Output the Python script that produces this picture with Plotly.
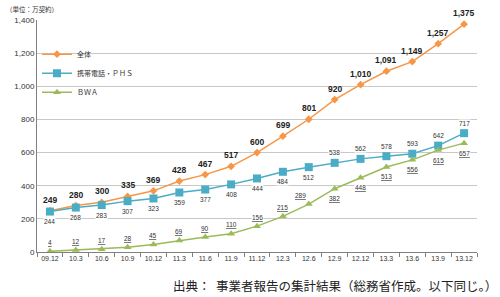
import plotly.graph_objects as go

categories = ["09.12","10.3","10.6","10.9","10.12","11.3","11.6","11.9","11.12",
              "12.3","12.6","12.9","12.12","13.3","13.6","13.9","13.12"]
total = [249,280,300,335,369,428,467,517,600,699,801,920,1010,1091,1149,1257,1375]
mobile = [244,268,283,307,323,359,377,408,444,484,512,538,562,578,593,642,717]
bwa = [4,12,17,28,45,69,90,110,156,215,289,382,448,513,556,615,657]
yticks = [0,200,400,600,800,1000,1200,1400]

C_TOT = "#F79646"
C_MOB = "#4BACC6"
C_BWA = "#9BBB59"
FONT = "Noto Sans CJK JP"

fig = go.Figure()
fig.add_trace(go.Scatter(x=categories, y=total, name="全体", mode="lines+markers",
                         line=dict(color=C_TOT, width=1.5),
                         marker=dict(symbol="diamond", size=6, color=C_TOT)))
fig.add_trace(go.Scatter(x=categories, y=mobile, name="携帯電話・ＰＨＳ", mode="lines+markers",
                         line=dict(color=C_MOB, width=1.5),
                         marker=dict(symbol="square", size=8, color=C_MOB)))
fig.add_trace(go.Scatter(x=categories, y=bwa, name="ＢＷＡ", mode="lines+markers",
                         line=dict(color=C_BWA, width=1.5),
                         marker=dict(symbol="triangle-up", size=7, color=C_BWA)))

ann = []
for i, v in enumerate(total):
    ann.append(dict(x=i, y=v, text=f"<b>{v:,}</b>", showarrow=False, yshift=11,
                    font=dict(size=8.5, color="#222", family="Liberation Sans")))
for i, v in enumerate(mobile):
    above = i >= 11
    ann.append(dict(x=i, y=v, text=f"{v}", showarrow=False, yshift=10 if above else -10,
                    bgcolor="white", borderpad=0,
                    font=dict(size=6.5, color="#333", family="Liberation Sans")))
for i, v in enumerate(bwa):
    if i <= 9:
        ys, xs = 9, 0
    elif i == 10:
        ys, xs = 9, -8
    else:
        ys, xs = -10, 0
    ann.append(dict(x=i, y=v, text=f"<u>{v}</u>", showarrow=False, yshift=ys, xshift=xs,
                    bgcolor="white", borderpad=0,
                    font=dict(size=6.5, color="#333", family="Liberation Sans")))

ann.append(dict(xref="paper", yref="paper", x=-0.075, y=1.0, yshift=11, xanchor="left",
                yanchor="middle", text="（単位：万契約）", showarrow=False,
                font=dict(size=6.5, color="#333", family=FONT)))
ann.append(dict(xref="paper", yref="paper", x=1.05, y=0, yshift=-33, xanchor="right",
                yanchor="middle", text="出典：  事業者報告の集計結果（総務省作成。以下同じ。）",
                showarrow=False, font=dict(size=12.5, color="#222", family=FONT)))

fig.update_layout(
    width=500, height=297,
    margin=dict(l=37, r=23, t=20, b=45),
    paper_bgcolor="white", plot_bgcolor="white",
    showlegend=True,
    legend=dict(x=0.0, y=0.915, xanchor="left", yanchor="top", bgcolor="rgba(0,0,0,0)",
                font=dict(size=7, color="#333", family=FONT), itemwidth=30,
                tracegroupgap=8),
    annotations=ann,
    font=dict(family="Liberation Sans"),
)
fig.update_xaxes(type="category", range=[-0.5, 16.5], showline=True, linecolor="#808080",
                 linewidth=1, ticks="outside", tickson="boundaries", ticklen=4,
                 tickcolor="#808080", showgrid=False, tickangle=0,
                 tickfont=dict(size=7, color="#333"))
fig.update_yaxes(range=[0, 1400], tickvals=yticks, ticktext=[f"{v:,}" for v in yticks],
                 showline=True, linecolor="#808080", linewidth=1, gridcolor="#C8C8C8",
                 gridwidth=1.2, zeroline=False, tickfont=dict(size=8, color="#333"),
                 ticks="")

fig.write_html("out.html")
